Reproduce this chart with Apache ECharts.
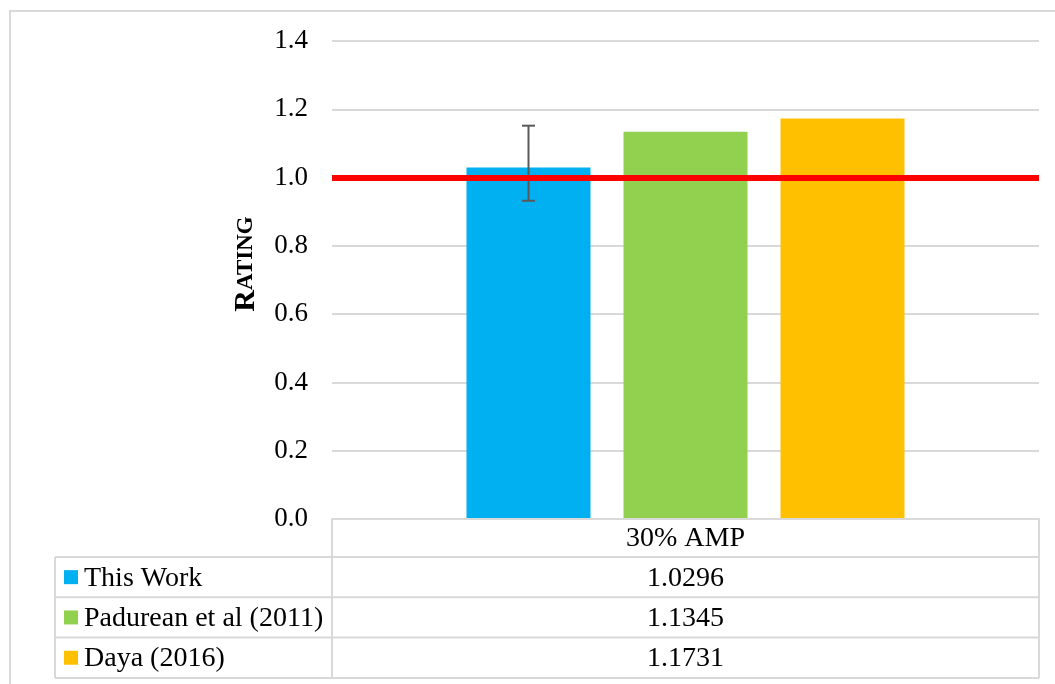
<!DOCTYPE html>
<html>
<head>
<meta charset="utf-8">
<script src="https://cdn.jsdelivr.net/npm/echarts@6/dist/echarts.min.js"></script>
<style>
  html, body { margin: 0; padding: 0; background: #fff; }
  #main { width: 1055px; height: 684px; }
</style>
</head>
<body>
<div id="main"></div>
<script>
// ---- data ----
const categories = ['30% AMP'];
const seriesNames = ['This Work', 'Padurean et al (2011)', 'Daya (2016)'];
const seriesValues = [1.0296, 1.1345, 1.1731];
const seriesColors = ['#00B0F0', '#92D050', '#FFC000'];
const errorLow = [0.932];
const errorHigh = [1.152];
const referenceValue = 1.0;
const yMin = 0, yMax = 1.4, yInterval = 0.2;

// ---- layout ----
const W = 1055, H = 684;
const gridLeft = 332, gridRight = 16, gridTop = 41, gridBottom = 165;
const barWidth = 124, barGapPx = 33;
const FONT = "'Liberation Serif', 'Times New Roman', serif";
const gridColor = '#d9d9d9';

const chart = echarts.init(document.getElementById('main'), null, { renderer: 'canvas' });

const barSeries = seriesNames.map((name, i) => ({
  name: name,
  type: 'bar',
  data: [seriesValues[i]],
  barWidth: barWidth,
  barGap: (barGapPx / barWidth * 100).toFixed(2) + '%',
  itemStyle: { color: seriesColors[i] },
  silent: true,
  z: 2
}));

barSeries[0].markLine = {
  silent: true,
  symbol: ['none', 'none'],
  label: { show: false },
  lineStyle: { color: '#FF0000', width: 6, type: 'solid' },
  data: [{ yAxis: referenceValue }],
  z: 5
};

const errorSeries = {
  type: 'custom',
  name: 'error',
  silent: true,
  z: 4,
  data: errorLow.map((lo, i) => [i, lo, errorHigh[i]]),
  renderItem: function (params, api) {
    const offset = -(barWidth + barGapPx);
    const lo = api.coord([api.value(0), api.value(1)]);
    const hi = api.coord([api.value(0), api.value(2)]);
    const x = lo[0] + offset;
    const cap = 6.5;
    const style = { stroke: '#595959', lineWidth: 2 };
    return {
      type: 'group',
      children: [
        { type: 'line', shape: { x1: x, y1: hi[1], x2: x, y2: lo[1] }, style: style },
        { type: 'line', shape: { x1: x - cap, y1: hi[1], x2: x + cap, y2: hi[1] }, style: style },
        { type: 'line', shape: { x1: x - cap, y1: lo[1], x2: x + cap, y2: lo[1] }, style: style }
      ]
    };
  }
};

// ---- data table (graphic) built from the arrays ----
const tableTop = H - gridBottom;
const headerH = 38, rowH = 40.3;
const tableLeft = 55, tableRight = W - gridRight;
const tickFontSize = 27;
const tableFontSize = 28;
const graphics = [];
function hline(x1, x2, y) {
  graphics.push({ type: 'line', silent: true, shape: { x1: x1, y1: y, x2: x2, y2: y }, style: { stroke: gridColor, lineWidth: 2 }, z: 10 });
}
function vline(x, y1, y2) {
  graphics.push({ type: 'line', silent: true, shape: { x1: x, y1: y1, x2: x, y2: y2 }, style: { stroke: gridColor, lineWidth: 2 }, z: 10 });
}
const tableBottom = tableTop + headerH + rowH * seriesNames.length;
hline(gridLeft, tableRight, tableTop);
vline(gridLeft, tableTop, tableBottom);
vline(tableRight, tableTop, tableBottom);
vline(tableLeft, tableTop + headerH, tableBottom);
for (let r = 0; r <= seriesNames.length; r++) {
  hline(tableLeft, tableRight, tableTop + headerH + rowH * r);
}
const colCenter = (gridLeft + tableRight) / 2;
graphics.push({
  type: 'text', silent: true, z: 11,
  style: { x: colCenter, y: tableTop + headerH / 2 + 1, text: categories[0], font: tableFontSize + 'px ' + FONT, fill: '#000', textAlign: 'center', textVerticalAlign: 'middle' }
});
seriesNames.forEach((name, i) => {
  const cy = tableTop + headerH + rowH * i + rowH / 2;
  graphics.push({ type: 'rect', silent: true, z: 11, shape: { x: 64, y: cy - 7, width: 14, height: 14 }, style: { fill: seriesColors[i] } });
  graphics.push({
    type: 'text', silent: true, z: 11,
    style: { x: 84, y: cy + 1, text: name, font: tableFontSize + 'px ' + FONT, fill: '#000', textAlign: 'left', textVerticalAlign: 'middle' }
  });
  graphics.push({
    type: 'text', silent: true, z: 11,
    style: { x: colCenter, y: cy + 1, text: seriesValues[i].toFixed(4), font: tableFontSize + 'px ' + FONT, fill: '#000', textAlign: 'center', textVerticalAlign: 'middle' }
  });
});
// outer chart border
graphics.push({ type: 'rect', silent: true, z: 0, shape: { x: 10, y: 11, width: W + 20, height: H + 20 }, style: { fill: 'none', stroke: gridColor, lineWidth: 2 } });

chart.setOption({
  animation: false,
  backgroundColor: '#fff',
  grid: { left: gridLeft, right: gridRight, top: gridTop, bottom: gridBottom, containLabel: false },
  xAxis: {
    type: 'category',
    data: categories,
    axisLine: { show: true, lineStyle: { color: gridColor, width: 2 } },
    axisTick: { show: false },
    axisLabel: { show: false },
    splitLine: { show: false }
  },
  yAxis: {
    type: 'value',
    min: yMin, max: yMax, interval: yInterval,
    axisLine: { show: false },
    axisTick: { show: false },
    axisLabel: {
      margin: 24,
      color: '#000',
      fontFamily: FONT,
      fontSize: tickFontSize,
      formatter: v => v.toFixed(1)
    },
    splitLine: { show: true, lineStyle: { color: gridColor, width: 2 } },
    name: '{a|R}{b|ATING}',
    nameLocation: 'middle',
    nameRotate: 90,
    nameGap: 71,
    nameTextStyle: {
      padding: [0, 0, 0, 32],
      rich: {
        a: { fontFamily: FONT, fontWeight: 'bold', fontSize: 30, color: '#000' },
        b: { fontFamily: FONT, fontWeight: 'bold', fontSize: 23, color: '#000' }
      }
    }
  },
  series: barSeries.concat([errorSeries]),
  graphic: graphics
});
</script>
</body>
</html>
